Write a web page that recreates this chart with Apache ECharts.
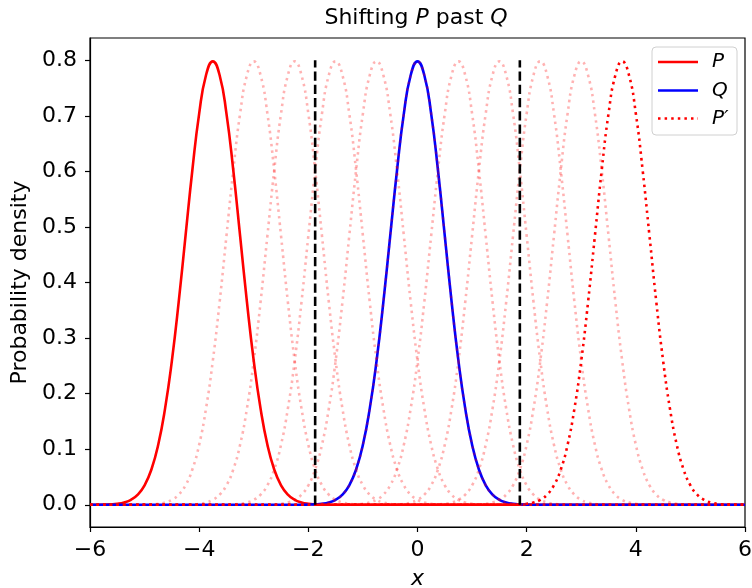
<!DOCTYPE html>
<html>
<head>
<meta charset="utf-8">
<script src="https://cdn.jsdelivr.net/npm/echarts@6/dist/echarts.min.js"></script>
<style>html,body{margin:0;padding:0;background:#fff}#c{width:752px;height:588px}</style>
</head>
<body>
<div id="c"></div>
<script>
// Gaussian profile (offset from the peak, density)
const profileOffsets = [-2.5,-2.375,-2.25,-2.125,-2.0,-1.875,-1.75,-1.625,-1.5,-1.375,-1.25,-1.125,-1.0,-0.875,-0.75,-0.625,-0.5,-0.375,-0.25,-0.125,0,0.125,0.25,0.375,0.5,0.625,0.75,0.875,1.0,1.125,1.25,1.375,1.5,1.625,1.75,1.875,2.0,2.125,2.25,2.375,2.5];
const profileValues = [0,0,0,0.0001,0.0003,0.0007,0.0017,0.0041,0.0089,0.0182,0.035,0.0635,0.108,0.173,0.259,0.365,0.484,0.602,0.704,0.773,0.798,0.773,0.704,0.602,0.484,0.365,0.259,0.173,0.108,0.0635,0.035,0.0182,0.0089,0.0041,0.0017,0.0007,0.0003,0.0001,0,0,0];
const meanP = -3.75;
const meanQ = 0;
const meanPprime = 3.75;
const fadedMeans = [-3, -2.25, -1.5, -0.75, 0, 0.75, 1.5, 2.25, 3];
const dashedX = [-1.875, 1.875];
const xTicks = [-6, -4, -2, 0, 2, 4, 6];
const yTicks = [0.0, 0.1, 0.2, 0.3, 0.4, 0.5, 0.6, 0.7, 0.8];
const xRange = [-6, 6];
const yRange = [-0.04, 0.84];
const dashedTop = 0.8;
const legendLabels = ['P', 'Q', 'P\u2032'];

function curve(mean) {
  const pts = [[xRange[0], 0]];
  profileOffsets.forEach((d, i) => {
    const x = mean + d;
    if (x > xRange[0] && x < xRange[1]) pts.push([x, profileValues[i]]);
  });
  pts.push([xRange[1], 0]);
  return pts;
}

const FONT = 'DejaVu Sans';
const FS = 22;
const RED = '#ff0000', BLUE = '#0000ff';
const DOT = [2.5, 4.1];
const series = [];
series.push({name: 'P', type: 'line', data: curve(meanP), smooth: true, symbol: 'none',
  lineStyle: {color: RED, width: 2.6}});
series.push({name: 'Q', type: 'line', data: curve(meanQ), smooth: true, symbol: 'none',
  lineStyle: {color: BLUE, width: 2.6}});
fadedMeans.forEach((m, k) => {
  series.push({name: 'f' + k, type: 'line', data: curve(m), smooth: true, symbol: 'none',
    lineStyle: {color: 'rgba(255,0,0,0.3)', width: 2.6, type: DOT}, silent: true});
});
series.push({name: 'seg', type: 'line', data: [[dashedX[0], 0], [dashedX[1], 0]], symbol: 'none',
  lineStyle: {color: RED, width: 2.6}});
series.push({name: 'P′', type: 'line', data: curve(meanPprime), smooth: true, symbol: 'none',
  lineStyle: {color: RED, width: 2.6, type: DOT}});
dashedX.forEach((x, k) => {
  series.push({name: 'd' + k, type: 'line', data: [[x, 0], [x, dashedTop]], symbol: 'none',
    lineStyle: {color: '#000', width: 2.6, type: [9.25, 4]}});
});

const fmtNum = v => (v < 0 ? '\u2212' + Math.abs(v) : String(v));

// legend drawn as decoration
const lgX = 652, lgY = 47, lgW = 85, lgH = 88, rowY = [62, 90.5, 118.5];
const lgStyles = [{stroke: RED, lineWidth: 2.6}, {stroke: BLUE, lineWidth: 2.6}, {stroke: RED, lineWidth: 2.6, lineDash: DOT}];
const graphics = [{
  type: 'text', x: 416, y: 7, z: 10,
  style: {text: 'Shifting {i|P} past {i|Q}', textAlign: 'center', font: FS + 'px "' + FONT + '"', fill: '#000',
    rich: {i: {fontStyle: 'italic', fontFamily: FONT, fontSize: FS}}}
}, {
  type: 'rect', z: 10, shape: {x: lgX, y: lgY, width: lgW, height: lgH, r: 4},
  style: {fill: 'rgba(255,255,255,0.8)', stroke: '#d0d0d0', lineWidth: 1}
}];
legendLabels.forEach((t, i) => {
  graphics.push({type: 'line', z: 11, shape: {x1: 658, y1: rowY[i], x2: 698, y2: rowY[i]}, style: lgStyles[i]});
  graphics.push({type: 'text', z: 11, x: 712, y: rowY[i],
    style: {text: t, font: 'italic 20px "' + FONT + '"', fill: '#000', textVerticalAlign: 'middle', verticalAlign: 'middle'}});
});

const chart = echarts.init(document.getElementById('c'), null, {renderer: 'canvas'});
chart.setOption({
  animation: false,
  backgroundColor: '#fff',
  textStyle: {fontFamily: FONT},
  grid: {left: 90, right: 7, top: 38, bottom: 61, show: true, borderColor: '#000', borderWidth: 1.2,
    containLabel: false, outerBoundsMode: 'none'},
  graphic: graphics,
  xAxis: {
    type: 'value', min: xRange[0], max: xRange[1], interval: 2,
    name: 'x', nameLocation: 'middle', nameGap: 41,
    nameTextStyle: {fontFamily: FONT, fontSize: FS, fontStyle: 'italic', color: '#000'},
    axisLine: {show: true, onZero: false, lineStyle: {color: '#000', width: 1.2}},
    axisTick: {show: true, length: 5, lineStyle: {color: '#000', width: 1.2}},
    axisLabel: {fontFamily: FONT, fontSize: FS, color: '#000', margin: 12, formatter: fmtNum},
    splitLine: {show: false}
  },
  yAxis: {
    type: 'value', min: yRange[0], max: yRange[1],
    name: 'Probability density', nameLocation: 'middle', nameGap: 57, nameRotate: 90,
    nameTextStyle: {fontFamily: FONT, fontSize: FS, color: '#000'},
    axisLine: {show: true, onZero: false, lineStyle: {color: '#000', width: 1.2}},
    axisTick: {show: true, length: 5, customValues: yTicks, lineStyle: {color: '#000', width: 1.2}},
    axisLabel: {fontFamily: FONT, fontSize: FS, color: '#000', margin: 13, customValues: yTicks,
      formatter: v => v.toFixed(1)},
    splitLine: {show: false}
  },
  series: series
});
</script>
</body>
</html>
